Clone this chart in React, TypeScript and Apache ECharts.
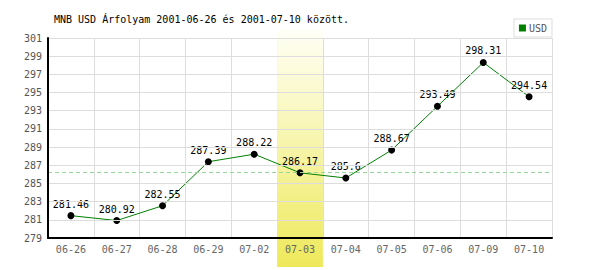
import React, { useEffect, useRef } from "react";
import * as echarts from "echarts";

const categories = ["06-26", "06-27", "06-28", "06-29", "07-02", "07-03", "07-04", "07-05", "07-06", "07-09", "07-10"];
const usdValues = [281.46, 280.92, 282.55, 287.39, 288.22, 286.17, 285.6, 288.67, 293.49, 298.31, 294.54];
const yTickValues = [279, 281, 283, 285, 287, 289, 291, 293, 295, 297, 299, 301];
const referenceLevel = 286.26;
const highlightDay = "07-03";
const titleText = "MNB USD Árfolyam 2001-06-26 és 2001-07-10 között.";

const MONO = "'DejaVu Sans Mono', 'Liberation Mono', monospace";

export default function App() {
  const ref = useRef<HTMLDivElement>(null);

  useEffect(() => {
    if (!ref.current) return;
    const chart = echarts.init(ref.current, null, { renderer: "svg" });
    chart.setOption({
      animation: false,
      backgroundColor: "#fff",
      title: {
        text: titleText,
        left: 54,
        top: 14,
        padding: 0,
        textStyle: { fontFamily: MONO, fontSize: 10, fontWeight: "normal", color: "#000" },
      },
      legend: {
        data: [{ name: "USD", itemStyle: { color: "#008000" } }],
        right: 48,
        top: 19,
        icon: "rect",
        itemWidth: 7,
        itemHeight: 7,
        itemGap: 3,
        padding: [4, 5, 4, 5],
        borderColor: "#ddd",
        borderWidth: 1,
        textStyle: { fontFamily: MONO, fontSize: 10, color: "#555", padding: [0, 0, 0, -2] },
      },
      grid: { left: 48, right: 48, top: 38, bottom: 32, containLabel: false },
      xAxis: [
        {
          type: "category",
          data: categories,
          boundaryGap: true,
          z: 0,
          axisLine: { show: false },
          axisTick: { show: false },
          axisLabel: { show: false },
          splitLine: { show: true, lineStyle: { color: "#dddddd", width: 1 } },
        },
        {
          type: "category",
          data: categories,
          boundaryGap: true,
          position: "bottom",
          z: 10,
          axisLine: { show: true, lineStyle: { color: "#000", width: 2 } },
          axisTick: { show: false },
          axisLabel: { show: true, fontFamily: MONO, fontSize: 10, color: "#666", margin: 6 },
          splitLine: { show: false },
        },
      ],
      yAxis: {
        type: "value",
        min: 279,
        max: 301,
        z: 10,
        axisLine: { show: true, lineStyle: { color: "#000", width: 2 } },
        axisTick: { show: false, customValues: yTickValues },
        axisLabel: { fontFamily: MONO, fontSize: 10, color: "#555", margin: 6, customValues: yTickValues },
        splitLine: { show: true, lineStyle: { color: "#dddddd", width: 1 } },
      },
      series: [
        {
          name: "ref",
          type: "line",
          data: [],
          z: 1,
          silent: true,
          markLine: {
            silent: true,
            symbol: "none",
            label: { show: false },
            lineStyle: { color: "#99d699", type: [4, 3], width: 1 },
            data: [{ yAxis: referenceLevel }],
          },
        },
        {
          name: "USD",
          type: "line",
          data: usdValues,
          z: 3,
          xAxisIndex: 0,
          color: "#008000",
          lineStyle: { color: "#008000", width: 1 },
          symbol: "circle",
          symbolSize: 7,
          itemStyle: { color: "#000" },
          label: {
            show: true,
            position: "top",
            distance: 3,
            fontFamily: MONO,
            fontSize: 10,
            color: "#000",
          },
        },
      ],
    });

    const idx = categories.indexOf(highlightDay);
    const cx = chart.convertToPixel({ xAxisIndex: 0 }, categories[idx]) as number;
    const nx = chart.convertToPixel({ xAxisIndex: 0 }, categories[idx + 1] ?? categories[idx - 1]) as number;
    const bw = Math.abs(nx - cx);
    chart.setOption({
      graphic: [
        {
          type: "rect",
          silent: true,
          z: 2,
          shape: { x: cx - bw / 2, y: 30, width: bw, height: 237 },
          style: {
            fill: new echarts.graphic.LinearGradient(0, 0, 0, 1, [
              { offset: 0, color: "#fffff6" },
              { offset: 1, color: "#eee95a" },
            ]),
          },
        },
      ],
    });

    return () => chart.dispose();
  }, []);

  return (
    <div
      ref={ref}
      style={{ position: "fixed", left: 0, top: 0, width: 600, height: 270 }}
    />
  );
}
